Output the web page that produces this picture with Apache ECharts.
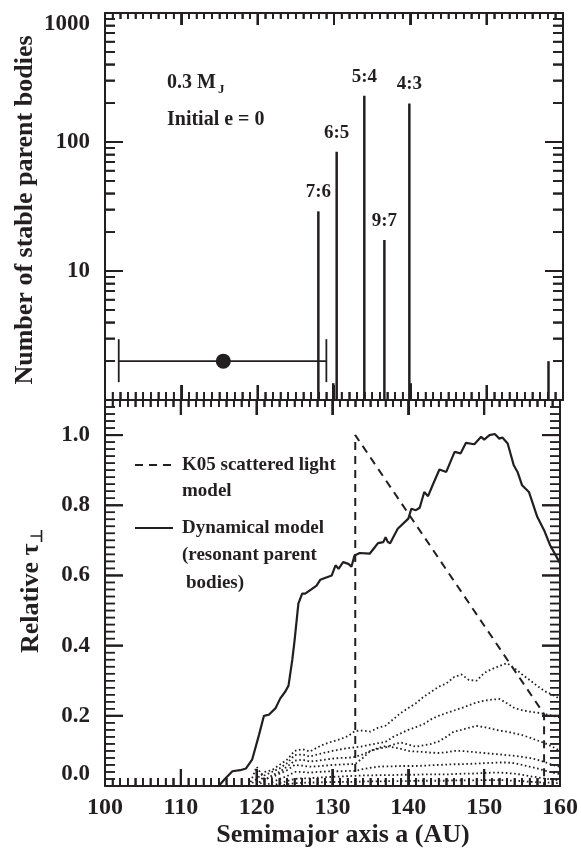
<!DOCTYPE html>
<html><head><meta charset="utf-8">
<script src="https://cdn.jsdelivr.net/npm/echarts@6/dist/echarts.min.js"></script>
<style>html,body{margin:0;padding:0;background:#fff}#c{width:581px;height:854px}</style>
</head><body><div id="c"></div>
<script>
// ---------- DATA ----------
// Top panel: resonance spikes (semimajor axis, number of stable parent bodies)
const spikeA = [127.95, 130.35, 133.97, 136.6, 139.87, 129.9, 140.05, 158.1];
const spikeN = [29, 84, 228, 17.4, 199, 1.35, 1.35, 2];
const spikeLabels = ['7:6', '6:5', '5:4', '9:7', '4:3', '', '', ''];
// Planet position with error bar
const planetA = [115.5];
const planetN = [2];
const planetLow = [101.8];
const planetHigh = [129.0];
// Axis ticks
const xMajor = [100, 110, 120, 130, 140, 150, 160];
const logMajor = [1, 10, 100, 1000];
const tauMajor = [0, 0.2, 0.4, 0.6, 0.8, 1.0];

// Bottom panel: K05 scattered light model (dashed)
const k05A = [133.0, 133.0, 157.9, 157.9];
const k05T = [0, 1.0, 0.205, 0];
// Dynamical model (solid)
const dynA = [112, 115, 115.8, 116.8, 117.8, 118.6, 119.4, 120.3, 120.96, 121.6, 122.5, 123.1, 123.8, 124.2, 124.7, 125.0, 125.5, 126.0, 126.4, 127.3, 127.9, 128.4, 129.0, 129.9, 130.4, 130.8, 131.4, 132.1, 132.5, 132.9, 133.6, 134.9, 135.6, 136.0, 136.7, 137.0, 137.3, 137.6, 138.6, 140.0, 140.4, 141.0, 141.5, 142.1, 142.6, 143.2, 144.1, 145.0, 146.1, 146.9, 147.6, 148.7, 149.6, 150.0, 150.7, 151.4, 152.0, 152.4, 153.1, 153.9, 154.4, 155.0, 155.9, 157.0, 157.9, 158.7, 159.8, 160];
const dynT = [0, 0, 0.02, 0.042, 0.045, 0.05, 0.075, 0.145, 0.2, 0.203, 0.222, 0.249, 0.27, 0.286, 0.36, 0.415, 0.52, 0.548, 0.548, 0.562, 0.571, 0.588, 0.593, 0.6, 0.629, 0.619, 0.638, 0.633, 0.625, 0.657, 0.664, 0.662, 0.681, 0.692, 0.695, 0.709, 0.695, 0.692, 0.733, 0.762, 0.79, 0.786, 0.793, 0.838, 0.826, 0.857, 0.902, 0.895, 0.952, 0.948, 0.978, 0.974, 0.995, 0.987, 1.0, 1.003, 0.99, 0.993, 0.976, 0.914, 0.895, 0.857, 0.838, 0.767, 0.729, 0.686, 0.643, 0.635];
// Individual resonance contributions (dotted)
const dotX = [119,120,121,122,123,124,125,126,127,128,129,130,131,132,133,134,135,136,137,138,139,140,141,142,143,144,145,146,147,148,149,150,151,152,153,154,155,156,157,158,159,160];
const dotA = [0,0.02,0.04,0.045,0.06,0.075,0.1,0.105,0.098,0.11,0.12,0.127,0.133,0.142,0.157,0.158,0.155,0.166,0.172,0.19,0.208,0.222,0.236,0.254,0.268,0.283,0.292,0.31,0.318,0.302,0.3,0.322,0.333,0.342,0.35,0.336,0.318,0.302,0.285,0.27,0.26,0.248];
const dotB = [null,0,0.03,0.04,0.05,0.065,0.088,0.09,0.084,0.09,0.095,0.1,0.104,0.108,0.11,0.113,0.118,0.122,0.126,0.14,0.15,0.16,0.168,0.176,0.19,0.2,0.208,0.215,0.222,0.23,0.238,0.243,0.246,0.248,0.236,0.222,0.216,0.212,0.209,0.205,0.2,0.195];
const dotC = [null,0,0.015,0.03,0.04,0.055,0.072,0.075,0.07,0.072,0.075,0.078,0.08,0.08,0.083,0.09,0.1,0.106,0.11,0.118,0.124,0.118,0.112,0.116,0.12,0.127,0.14,0.155,0.16,0.166,0.171,0.168,0.163,0.158,0.155,0.15,0.145,0.138,0.13,0.122,0.112,0.1];
const dotD = [0,0.055,0.02,0.025,0.035,0.045,0.06,0.058,0.055,0.056,0.058,0.06,0.061,0.062,0.063,0.08,0.1,0.108,0.114,0.11,0.106,0.1,0.098,0.097,0.095,0.094,0.096,0.1,0.1,0.098,0.096,0.094,0.092,0.09,0.088,0.086,0.083,0.08,0.075,0.068,0.06,0.055];
const dotE = [null,null,0,0.01,0.02,0.028,0.04,0.04,0.038,0.04,0.041,0.042,0.042,0.043,0.043,0.048,0.052,0.055,0.056,0.056,0.057,0.057,0.057,0.058,0.059,0.06,0.061,0.062,0.062,0.063,0.064,0.065,0.066,0.067,0.067,0.065,0.06,0.055,0.05,0.044,0.038,0.034];
const dotF = [null,null,null,0,0.008,0.014,0.02,0.022,0.022,0.024,0.025,0.026,0.027,0.028,0.029,0.03,0.03,0.031,0.031,0.031,0.032,0.032,0.032,0.033,0.033,0.033,0.033,0.034,0.035,0.035,0.036,0.037,0.038,0.038,0.037,0.035,0.032,0.028,0.025,0.021,0.018,0.015];
const dotG = [null,null,null,null,0,0.005,0.008,0.009,0.01,0.01,0.011,0.011,0.012,0.012,0.012,0.013,0.013,0.013,0.014,0.014,0.014,0.014,0.015,0.015,0.015,0.015,0.015,0.016,0.016,0.016,0.016,0.017,0.017,0.017,0.016,0.015,0.014,0.012,0.011,0.01,0.009,0.008];

// ---------- STYLE ----------
const FONT = '"Liberation Serif", "Times New Roman", Times, serif';
const INK = '#231f20';
const zip = (xs, ys) => xs.map((x, i) => [x, ys[i]]);

// minor tick values (axis decoration)
const xMinor = [];
for (let i = 0; i < xMajor.length - 1; i++) for (let k = 1; k < 10; k++) xMinor.push(xMajor[i] + k);
const logMinor = [];
for (let i = 0; i < logMajor.length - 1; i++) for (let k = 2; k < 10; k++) logMinor.push(logMajor[i] * k);
const tauMinor = [];
for (let i = 1; i < 55; i++) if (i % 10 !== 0) tauMinor.push(i / 50);

// tick marks drawn as rectangular scatter symbols sitting on the axes
function tickDots(xi, yi, pts, w, h, ox, oy) {
  return {type:'scatter', xAxisIndex:xi, yAxisIndex:yi, data:pts, symbol:'rect',
    symbolSize:[w, h], symbolOffset:[ox, oy], clip:false, silent:true, z:6,
    itemStyle:{color:INK, opacity:1, borderWidth:0}, emphasis:{disabled:true}};
}
// same tick marks drawn through a custom series (backup)
function tickLines(xi, yi, pts, dx, dy, w) {
  return {type:'custom', xAxisIndex:xi, yAxisIndex:yi, encode:{x:0, y:1}, data:pts, clip:false,
    renderItem: (params, api) => {
      const p = api.coord([api.value(0), api.value(1)]);
      return {type:'group', children:[{type:'line', shape:{x1:p[0], y1:p[1], x2:p[0] + dx, y2:p[1] + dy},
              style:{stroke:INK, lineWidth:w}}]};
    }};
}
function panelTicks(xi, yi, yMin, yMax, yMaj, yMin2, L) {
  const sets = [
    [xMajor.map(v => [v, yMin]), 2, 0, -L[0]],
    [xMinor.map(v => [v, yMin]), 1.5, 0, -L[1]],
    [xMajor.map(v => [v, yMax]), 2, 0, L[2]],
    [xMinor.map(v => [v, yMax]), 1.5, 0, L[3]],
    [yMaj.map(v => [100, v]), 2, 18, 0],
    [yMin2.map(v => [100, v]), 1.5, 10, 0],
    [yMaj.map(v => [160, v]), 2, -18, 0],
    [yMin2.map(v => [160, v]), 1.5, -10, 0]
  ];
  const out = [];
  sets.forEach(([pts, w, dx, dy]) => {
    const vertical = dx === 0;
    const len = Math.abs(vertical ? dy : dx);
    out.push(tickDots(xi, yi, pts, vertical ? w : len, vertical ? len : w, dx / 2, dy / 2));
    out.push(tickLines(xi, yi, pts, dx, dy, w));
  });
  return out;
}

function xAx(grid, pos, lab, maj, mnr) {
  return {type:'value', gridIndex:grid, position:pos, min:100, max:160, interval:10,
    axisLine:{show:true, onZero:false, lineStyle:{color:INK, width:2}},
    axisTick:{show:true, inside:true, length:maj, lineStyle:{color:INK, width:2}},
    minorTick:{show:true, splitNumber:10, length:mnr, lineStyle:{color:INK, width:1.5}},
    splitLine:{show:false},
    axisLabel:{show:lab, color:INK, fontFamily:FONT, fontWeight:'bold', fontSize:24, margin:10}};
}
function yLog(pos, lab) {
  return {type:'log', gridIndex:0, position:pos, min:1, max:1000,
    axisLine:{show:true, onZero:false, lineStyle:{color:INK, width:2}},
    axisTick:{show:true, inside:true, length:18, lineStyle:{color:INK, width:2}},
    minorTick:{show:true, splitNumber:9, length:10, lineStyle:{color:INK, width:1.5}},
    splitLine:{show:false},
    axisLabel:{show:lab, color:INK, fontFamily:FONT, fontWeight:'bold', fontSize:23, margin:15,
      showMinLabel:false, verticalAlignMaxLabel:'top',
      formatter: v => String(Math.round(v))}};
}
function yLin(pos, lab) {
  return {type:'value', gridIndex:1, position:pos, min:0, max:1.1, interval:0.2,
    axisLine:{show:true, onZero:false, lineStyle:{color:INK, width:2}},
    axisTick:{show:false}, minorTick:{show:false}, splitLine:{show:false},
    axisLabel:{show:lab, color:INK, fontFamily:FONT, fontWeight:'bold', fontSize:23, margin:15,
      showMaxLabel:false, verticalAlignMinLabel:'bottom',
      formatter: v => v.toFixed(1)}};
}

const dotStyle = {color:INK, width:1.8, type:[1.6, 2.6], cap:'butt'};
const dotSeries = [dotA, dotB, dotC, dotD, dotE, dotF, dotG].map(vals => ({
  type:'line', xAxisIndex:2, yAxisIndex:2, data: zip(dotX, vals), showSymbol:false, symbol:'none',
  connectNulls:false, lineStyle: dotStyle, z:2, silent:true
}));

const option = {
  backgroundColor:'#fff',
  animation:false,
  grid:[
    {left:105, top:13, width:458, height:387},
    {left:105, top:400, width:458, height:386}
  ],
  xAxis:[ xAx(0,'bottom',false,15,8), xAx(0,'top',false,12,6), xAx(1,'bottom',true,17,8), xAx(1,'top',false,15,7) ],
  yAxis:[ yLog('left',true), yLog('right',false), yLin('left',true), yLin('right',false) ],
  series:[
    { type:'custom', xAxisIndex:0, yAxisIndex:0, encode:{x:0, y:1},
      data: spikeA.map((a, i) => [a, spikeN[i]]),
      renderItem: (params, api) => {
        const a = api.value(0), n = api.value(1);
        const p0 = api.coord([a, 1]), p1 = api.coord([a, n]);
        const ch = [{type:'line', shape:{x1:p0[0], y1:p0[1], x2:p1[0], y2:p1[1]},
                     style:{stroke:INK, lineWidth:2.5}}];
        const lab = spikeLabels[params.dataIndex];
        if (lab) ch.push({type:'text', x:p1[0], y:p1[1] - 19,
          style:{text:lab, align:'center', verticalAlign:'middle', textAlign:'center', textVerticalAlign:'middle',
                 fill:INK, font:'bold 19px ' + FONT}});
        return {type:'group', children:ch};
      }
    },
    { type:'custom', xAxisIndex:0, yAxisIndex:0, encode:{x:[0,1], y:2},
      data: planetA.map((a, i) => [planetLow[i], planetHigh[i], planetN[i]]),
      renderItem: (params, api) => {
        const p1 = api.coord([api.value(0), api.value(2)]);
        const p2 = api.coord([api.value(1), api.value(2)]);
        const s = {stroke:INK, lineWidth:1.8};
        return {type:'group', children:[
          {type:'line', shape:{x1:p1[0], y1:p1[1], x2:p2[0], y2:p2[1]}, style:s},
          {type:'line', shape:{x1:p1[0], y1:p1[1]-22, x2:p1[0], y2:p1[1]+21}, style:s},
          {type:'line', shape:{x1:p2[0], y1:p2[1]-22, x2:p2[0], y2:p2[1]+21}, style:s}
        ]};
      }
    },
    { type:'scatter', xAxisIndex:0, yAxisIndex:0, data: zip(planetA, planetN), symbol:'circle', symbolSize:15,
      itemStyle:{color:INK, opacity:1}, z:5 },
    { type:'line', xAxisIndex:2, yAxisIndex:2, data: zip(k05A, k05T), showSymbol:false, symbol:'none',
      lineStyle:{color:INK, width:2, type:[8, 6]}, z:3 },
    { type:'line', xAxisIndex:2, yAxisIndex:2, data: zip(dynA, dynT), showSymbol:false, symbol:'none',
      lineStyle:{color:INK, width:2.2}, z:4 },
    ...dotSeries,
    ...panelTicks(0, 0, 1, 1000, logMajor, logMinor, [15, 8, 12, 6]),
    ...panelTicks(2, 2, 0, 1.1, tauMajor, tauMinor, [17, 8, 15, 7])
  ],
  graphic:[
    {type:'text', x:167, y:83, style:{text:'0.3 M', font:'bold 20px ' + FONT, fill:INK, align:'left', verticalAlign:'middle', textAlign:'left', textVerticalAlign:'middle'}},
    {type:'text', x:218, y:90, style:{text:'J', font:'bold 13px ' + FONT, fill:INK, align:'left', verticalAlign:'middle', textAlign:'left', textVerticalAlign:'middle'}},
    {type:'text', x:167, y:120, style:{text:'Initial e = 0', font:'bold 20px ' + FONT, fill:INK, align:'left', verticalAlign:'middle', textAlign:'left', textVerticalAlign:'middle'}},
    {type:'text', x:25, y:210, rotation:Math.PI/2, style:{text:'Number of stable parent bodies', font:'bold 26px ' + FONT, fill:INK, align:'center', verticalAlign:'middle', textAlign:'center', textVerticalAlign:'middle'}},
    {type:'group', x:31, y:593, rotation:Math.PI/2, children:[
      {type:'text', x:-60, y:0, style:{text:'Relative τ', font:'bold 26px ' + FONT, fill:INK, align:'left', verticalAlign:'middle', textAlign:'left', textVerticalAlign:'middle'}},
      {type:'text', x:50, y:7, style:{text:'⊥', font:'bold 16px ' + FONT, fill:INK, align:'left', verticalAlign:'middle', textAlign:'left', textVerticalAlign:'middle'}}
    ]},
    {type:'text', x:343, y:835, style:{text:'Semimajor axis a (AU)', font:'bold 26px ' + FONT, fill:INK, align:'center', verticalAlign:'middle', textAlign:'center', textVerticalAlign:'middle'}},
    {type:'line', shape:{x1:135, y1:465, x2:173, y2:465}, style:{stroke:INK, lineWidth:2, lineDash:[8,6]}},
    {type:'text', x:182, y:465, style:{text:'K05 scattered light', font:'bold 19px ' + FONT, fill:INK, align:'left', verticalAlign:'middle', textAlign:'left', textVerticalAlign:'middle'}},
    {type:'text', x:182, y:491, style:{text:'model', font:'bold 19px ' + FONT, fill:INK, align:'left', verticalAlign:'middle', textAlign:'left', textVerticalAlign:'middle'}},
    {type:'line', shape:{x1:135, y1:528, x2:173, y2:528}, style:{stroke:INK, lineWidth:2.2}},
    {type:'text', x:182, y:528, style:{text:'Dynamical model', font:'bold 19px ' + FONT, fill:INK, align:'left', verticalAlign:'middle', textAlign:'left', textVerticalAlign:'middle'}},
    {type:'text', x:182, y:555, style:{text:'(resonant parent', font:'bold 19px ' + FONT, fill:INK, align:'left', verticalAlign:'middle', textAlign:'left', textVerticalAlign:'middle'}},
    {type:'text', x:186, y:583, style:{text:'bodies)', font:'bold 19px ' + FONT, fill:INK, align:'left', verticalAlign:'middle', textAlign:'left', textVerticalAlign:'middle'}}
  ]
};

const chart = echarts.init(document.getElementById('c'), null, {renderer:'canvas', width:581, height:854});
chart.setOption(option);
</script></body></html>
